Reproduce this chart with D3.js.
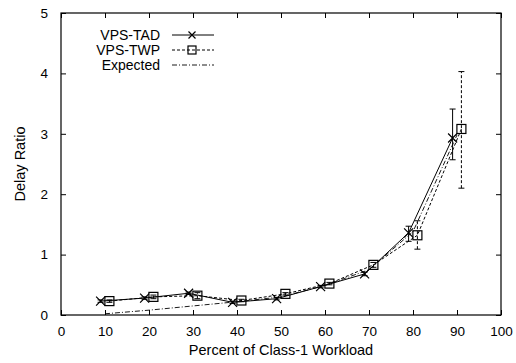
<!DOCTYPE html>
<html>
<head>
<meta charset="utf-8">
<script src="https://cdn.jsdelivr.net/npm/d3@7"></script>
<style>
body { margin: 0; background: #fff; }
text { font-family: "Liberation Sans", Arial, sans-serif; fill: #000; }
</style>
</head>
<body>
<script>
const width = 516;
const height = 363;

// data
const tadX   = [9, 19, 29, 39, 49, 59, 69, 79, 89];
const tadY   = [0.23, 0.28, 0.36, 0.21, 0.27, 0.47, 0.68, 1.36, 2.93];
const tadLo  = [0.21, 0.26, 0.34, 0.19, 0.25, 0.45, 0.65, 1.22, 2.57];
const tadHi  = [0.25, 0.30, 0.38, 0.23, 0.29, 0.49, 0.71, 1.47, 3.41];

const twpX   = [11, 21, 31, 41, 51, 61, 71, 81, 91];
const twpY   = [0.23, 0.30, 0.32, 0.24, 0.35, 0.52, 0.83, 1.32, 3.08];
const twpLo  = [0.21, 0.27, 0.27, 0.22, 0.33, 0.50, 0.79, 1.09, 2.10];
const twpHi  = [0.25, 0.33, 0.37, 0.26, 0.37, 0.54, 0.87, 1.56, 4.03];

const expX   = [10, 20, 30, 40, 50, 60, 70, 80, 90];
const expY   = [0.02, 0.08, 0.15, 0.22, 0.30, 0.49, 0.75, 1.38, 2.98];

const xTicks = [0, 10, 20, 30, 40, 50, 60, 70, 80, 90, 100];
const yTicks = [0, 1, 2, 3, 4, 5];

const svg = d3.select('body').append('svg').attr('width', width).attr('height', height);

const mLeft = 61, mRight = 501, mTop = 13, mBottom = 315;

const xs = d3.scaleLinear().domain([0, 100]).range([mLeft, mRight]);
const ys = d3.scaleLinear().domain([0, 5]).range([mBottom, mTop]);

// frame + inward ticks on all sides (gnuplot style)
const tl = 5;
svg.append('g')
	.attr('transform', 'translate(0,' + mBottom + ')')
	.call(d3.axisBottom(xs).tickValues(xTicks).tickSizeInner(-tl).tickSizeOuter(0).tickPadding(11).tickFormat(d3.format('d')))
	.call(g => g.select('.domain').remove());
svg.append('g')
	.attr('transform', 'translate(0,' + mTop + ')')
	.call(d3.axisTop(xs).tickValues(xTicks).tickSizeInner(-tl).tickSizeOuter(0).tickFormat(''))
	.call(g => g.select('.domain').remove());
svg.append('g')
	.attr('transform', 'translate(' + mLeft + ',0)')
	.call(d3.axisLeft(ys).tickValues(yTicks).tickSizeInner(-tl).tickSizeOuter(0).tickPadding(13).tickFormat(d3.format('d')))
	.call(g => g.select('.domain').remove());
svg.append('g')
	.attr('transform', 'translate(' + mRight + ',0)')
	.call(d3.axisRight(ys).tickValues(yTicks).tickSizeInner(-tl).tickSizeOuter(0).tickFormat(''))
	.call(g => g.select('.domain').remove());

svg.selectAll('.tick text').style('font-size', '13.5px').style('font-family', '"Liberation Sans", Arial, sans-serif');
svg.selectAll('.tick line').attr('stroke', '#000');

svg.append('rect')
	.attr('x', mLeft).attr('y', mTop)
	.attr('width', mRight - mLeft).attr('height', mBottom - mTop)
	.attr('fill', 'none').attr('stroke', '#000').attr('stroke-width', 1.2);

// axis titles
svg.append('text')
	.attr('x', (mLeft + mRight) / 2).attr('y', 355)
	.attr('text-anchor', 'middle').style('font-size', '14.5px')
	.text('Percent of Class-1 Workload');
svg.append('text')
	.attr('transform', 'translate(25,' + (mTop + mBottom) / 2 + ') rotate(-90)')
	.attr('text-anchor', 'middle').style('font-size', '14.5px')
	.text('Delay Ratio');

const line = d3.line().x(d => xs(d[0])).y(d => ys(d[1]));

function series(xv, yv) { return xv.map((x, i) => [x, yv[i]]); }

function errorBars(xv, lo, hi, dash) {
	const g = svg.append('g').attr('stroke', '#000').attr('stroke-width', 1).attr('fill', 'none');
	xv.forEach(function(x, i) {
		g.append('line').attr('x1', xs(x)).attr('x2', xs(x)).attr('y1', ys(lo[i])).attr('y2', ys(hi[i]))
			.attr('stroke-dasharray', dash);
		[lo[i], hi[i]].forEach(function(v) {
			g.append('line').attr('x1', xs(x) - 3).attr('x2', xs(x) + 3).attr('y1', ys(v)).attr('y2', ys(v));
		});
	});
}

// Expected
svg.append('path')
	.attr('d', line(series(expX, expY)))
	.attr('fill', 'none').attr('stroke', '#000').attr('stroke-width', 0.9)
	.attr('stroke-dasharray', '5,2,1,2');

// VPS-TWP
errorBars(twpX, twpLo, twpHi, '3,2');
svg.append('path')
	.attr('d', line(series(twpX, twpY)))
	.attr('fill', 'none').attr('stroke', '#000').attr('stroke-width', 1)
	.attr('stroke-dasharray', '3,2');
svg.append('g').selectAll('rect')
	.data(series(twpX, twpY))
	.enter()
	.append('rect')
	.attr('x', d => xs(d[0]) - 4.5).attr('y', d => ys(d[1]) - 4.5)
	.attr('width', 9).attr('height', 9)
	.attr('fill', 'none').attr('stroke', '#000').attr('stroke-width', 1.2);

// VPS-TAD
errorBars(tadX, tadLo, tadHi, null);
svg.append('path')
	.attr('d', line(series(tadX, tadY)))
	.attr('fill', 'none').attr('stroke', '#000').attr('stroke-width', 1);
svg.append('g').selectAll('path')
	.data(series(tadX, tadY))
	.enter()
	.append('path')
	.attr('d', d => {
		const cx = xs(d[0]), cy = ys(d[1]), r = 4.5;
		return 'M' + (cx - r) + ',' + (cy - r) + 'L' + (cx + r) + ',' + (cy + r) +
			'M' + (cx - r) + ',' + (cy + r) + 'L' + (cx + r) + ',' + (cy - r);
	})
	.attr('stroke', '#000').attr('stroke-width', 1.2);

// legend
const legend = [
	{name: 'VPS-TAD', dash: null, mark: 'x', y: 35},
	{name: 'VPS-TWP', dash: '3,2', mark: 'sq', y: 50},
	{name: 'Expected', dash: '5,2,1,2', mark: null, y: 65}
];
const lg = svg.append('g');
legend.forEach(function(d) {
	lg.append('text').attr('x', 160).attr('y', d.y + 5).attr('text-anchor', 'end')
		.style('font-size', '14px').text(d.name);
	lg.append('line').attr('x1', 172).attr('x2', 214).attr('y1', d.y).attr('y2', d.y)
		.attr('stroke', '#000').attr('stroke-width', d.mark ? 1 : 0.9).attr('stroke-dasharray', d.dash);
	if (d.mark === 'x') {
		lg.append('path').attr('d', 'M188.5,31.5L195.5,38.5M188.5,38.5L195.5,31.5')
			.attr('stroke', '#000').attr('stroke-width', 1.2);
	} else if (d.mark === 'sq') {
		lg.append('rect').attr('x', 188).attr('y', d.y - 4).attr('width', 8).attr('height', 8)
			.attr('fill', 'none').attr('stroke', '#000').attr('stroke-width', 1.2);
	}
});
</script>
</body>
</html>
